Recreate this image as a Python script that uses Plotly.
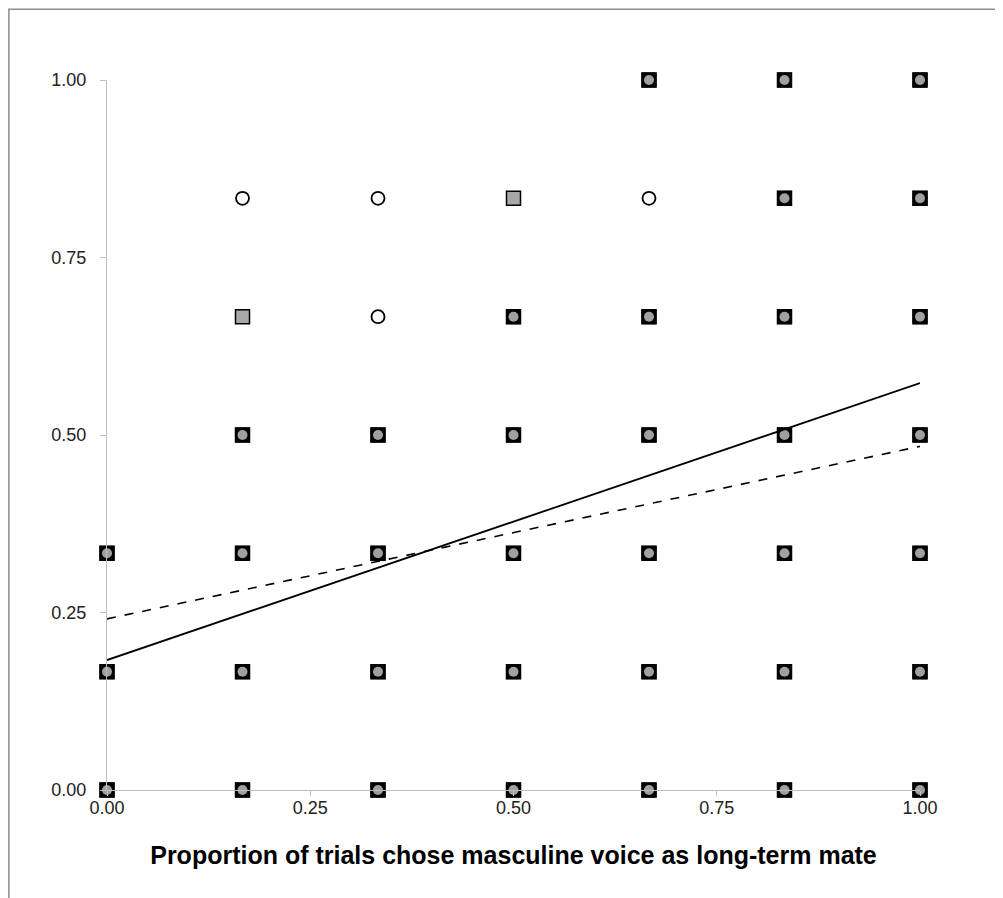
import plotly.graph_objects as go

# Data
sq_x = [2/3, 5/6, 1.0,
        0.5, 5/6, 1.0,
        1/6, 0.5, 2/3, 5/6, 1.0,
        1/6, 1/3, 0.5, 2/3, 5/6, 1.0,
        0.0, 1/6, 1/3, 0.5, 2/3, 5/6, 1.0,
        0.0, 1/6, 1/3, 0.5, 2/3, 5/6, 1.0,
        0.0, 1/6, 1/3, 0.5, 2/3, 5/6, 1.0]
sq_y = [1.0]*3 + [5/6]*3 + [2/3]*5 + [0.5]*6 + [1/3]*7 + [1/6]*7 + [0.0]*7

ci_x = [2/3, 5/6, 1.0,
        1/6, 1/3, 2/3, 5/6, 1.0,
        1/3, 0.5, 2/3, 5/6, 1.0,
        1/6, 1/3, 0.5, 2/3, 5/6, 1.0,
        0.0, 1/6, 1/3, 0.5, 2/3, 5/6, 1.0,
        0.0, 1/6, 1/3, 0.5, 2/3, 5/6, 1.0,
        0.0, 1/6, 1/3, 0.5, 2/3, 5/6, 1.0]
ci_y = [1.0]*3 + [5/6]*5 + [2/3]*5 + [0.5]*6 + [1/3]*7 + [1/6]*7 + [0.0]*7

fit_x = [0.0, 1.0]
fit_solid_y = [0.183, 0.573]
fit_dashed_y = [0.241, 0.484]

tick_vals = [0, 0.25, 0.5, 0.75, 1.0]
tick_text = ["0.00", "0.25", "0.50", "0.75", "1.00"]

sq_set = {(round(x, 3), round(y, 3)) for x, y in zip(sq_x, sq_y)}
both_x, both_y, solo_x, solo_y = [], [], [], []
for x, y in zip(ci_x, ci_y):
    if (round(x, 3), round(y, 3)) in sq_set:
        both_x.append(x); both_y.append(y)
    else:
        solo_x.append(x); solo_y.append(y)

fig = go.Figure()
fig.add_trace(go.Scatter(x=sq_x, y=sq_y, mode="markers", cliponaxis=False,
                         marker=dict(symbol="square", size=14, color="#a8a8a8",
                                     line=dict(color="black", width=1.5))))
fig.add_trace(go.Scatter(x=both_x, y=both_y, mode="markers", cliponaxis=False,
                         marker=dict(symbol="square", size=15, color="black",
                                     line=dict(color="black", width=0))))
fig.add_trace(go.Scatter(x=both_x, y=both_y, mode="markers", cliponaxis=False,
                         marker=dict(symbol="circle", size=10, color="#a0a0a0",
                                     line=dict(width=0))))
fig.add_trace(go.Scatter(x=solo_x, y=solo_y, mode="markers", cliponaxis=False,
                         marker=dict(symbol="circle", size=13, color="white",
                                     line=dict(color="black", width=1.8))))
fig.add_trace(go.Scatter(x=fit_x, y=fit_solid_y, mode="lines",
                         line=dict(color="black", width=1.8)))
fig.add_trace(go.Scatter(x=fit_x, y=fit_dashed_y, mode="lines",
                         line=dict(color="black", width=1.6, dash="dash")))

font_fam = "Liberation Sans, Arial, sans-serif"
axis_common = dict(range=[0, 1], tickvals=tick_vals, ticktext=tick_text,
                   showgrid=False, zeroline=False, showline=True,
                   linecolor="#bfbfbf", linewidth=1.3,
                   ticks="outside", tickcolor="#bfbfbf", tickwidth=1.3,
                   tickfont=dict(family=font_fam, size=18, color="#222"))

# page body adds an 8px offset; figure size and margins compensate
fig.update_layout(
    width=995, height=890,
    margin=dict(l=99, r=83, t=72, b=108),
    plot_bgcolor="white", paper_bgcolor="white",
    showlegend=False,
    xaxis=dict(**axis_common, ticklen=5, ticklabelstandoff=-4,
               title=dict(text="<b>Proportion of trials chose masculine voice as long-term mate</b>",
                          font=dict(family=font_fam, size=25, color="black"),
                          standoff=29)),
    yaxis=dict(**axis_common, ticklen=6, ticklabelstandoff=10),
    shapes=[dict(type="path", xref="paper", yref="paper",
                 path="M -0.1207,-0.3 L -0.1207,1.0998 L 1.3,1.0998",
                 line=dict(color="#8c8c8c", width=1.5))],
)

fig.write_html("out.html")
